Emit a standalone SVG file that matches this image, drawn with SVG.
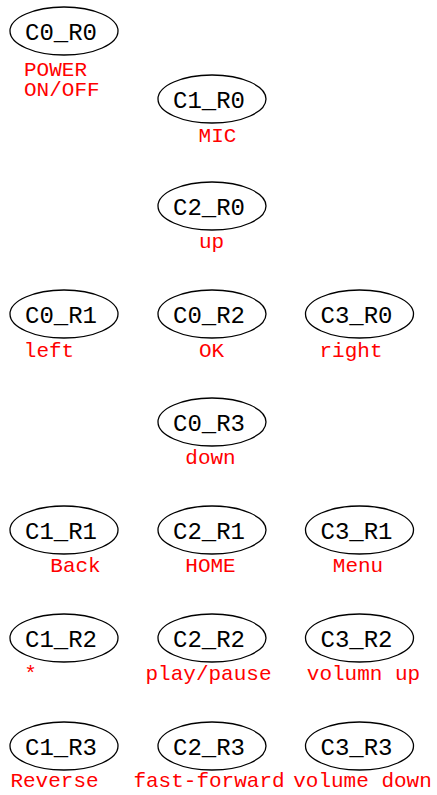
<svg xmlns="http://www.w3.org/2000/svg" width="437" height="795" viewBox="0 0 437 795">
<style>
.n ellipse{fill:none;stroke:#000;stroke-width:1.3}
.n text{font-family:"Liberation Mono","Courier New",monospace;font-size:24px;fill:#000;text-anchor:middle}
.l{font-family:"Liberation Mono","Courier New",monospace;font-size:21px;fill:#ff0000;text-anchor:middle}
</style>
<rect width="437" height="795" fill="#fff"/>
<g id="connectors"></g>
<g id="C0_R0" class="n"><ellipse cx="64" cy="31" rx="54" ry="24"/><text x="61" y="40">C0_R0</text></g>
<g id="C1_R0" class="n"><ellipse cx="212" cy="99" rx="54" ry="24"/><text x="209" y="108">C1_R0</text></g>
<g id="C2_R0" class="n"><ellipse cx="212" cy="206" rx="54" ry="24"/><text x="209" y="215">C2_R0</text></g>
<g id="C0_R1" class="n"><ellipse cx="64" cy="314" rx="54" ry="24"/><text x="61" y="323">C0_R1</text></g>
<g id="C0_R2" class="n"><ellipse cx="212" cy="314" rx="54" ry="24"/><text x="209" y="323">C0_R2</text></g>
<g id="C3_R0" class="n"><ellipse cx="359.5" cy="314" rx="54" ry="24"/><text x="356.5" y="323">C3_R0</text></g>
<g id="C0_R3" class="n"><ellipse cx="212" cy="422" rx="54" ry="24"/><text x="209" y="431">C0_R3</text></g>
<g id="C1_R1" class="n"><ellipse cx="64" cy="530" rx="54" ry="24"/><text x="61" y="539">C1_R1</text></g>
<g id="C2_R1" class="n"><ellipse cx="212" cy="530" rx="54" ry="24"/><text x="209" y="539">C2_R1</text></g>
<g id="C3_R1" class="n"><ellipse cx="359.5" cy="530" rx="54" ry="24"/><text x="356.5" y="539">C3_R1</text></g>
<g id="C1_R2" class="n"><ellipse cx="64" cy="638" rx="54" ry="24"/><text x="61" y="647">C1_R2</text></g>
<g id="C2_R2" class="n"><ellipse cx="212" cy="638" rx="54" ry="24"/><text x="209" y="647">C2_R2</text></g>
<g id="C3_R2" class="n"><ellipse cx="359.5" cy="638" rx="54" ry="24"/><text x="356.5" y="647">C3_R2</text></g>
<g id="C1_R3" class="n"><ellipse cx="64" cy="746" rx="54" ry="24"/><text x="61" y="755">C1_R3</text></g>
<g id="C2_R3" class="n"><ellipse cx="212" cy="746" rx="54" ry="24"/><text x="209" y="755">C2_R3</text></g>
<g id="C3_R3" class="n"><ellipse cx="359.5" cy="746" rx="54" ry="24"/><text x="356.5" y="755">C3_R3</text></g>
<g id="labels">
<text class="l" x="24" y="76" style="text-anchor:start">POWER</text>
<text class="l" x="24" y="96" style="text-anchor:start">ON/OFF</text>
<text class="l" x="217.5" y="142">MIC</text>
<text class="l" x="211.5" y="248">up</text>
<text class="l" x="49" y="357">left</text>
<text class="l" x="211.5" y="357">OK</text>
<text class="l" x="351" y="357">right</text>
<text class="l" x="210.5" y="464">down</text>
<text class="l" x="75.5" y="572">Back</text>
<text class="l" x="210.5" y="572">HOME</text>
<text class="l" x="358" y="572">Menu</text>
<text class="l" x="30.5" y="680">*</text>
<text class="l" x="208.5" y="680">play/pause</text>
<text class="l" x="363.5" y="680">volumn up</text>
<text class="l" x="54.5" y="787">Reverse</text>
<text class="l" x="209" y="787">fast-forward</text>
<text class="l" x="362.5" y="787">volume down</text>
</g>
</svg>
